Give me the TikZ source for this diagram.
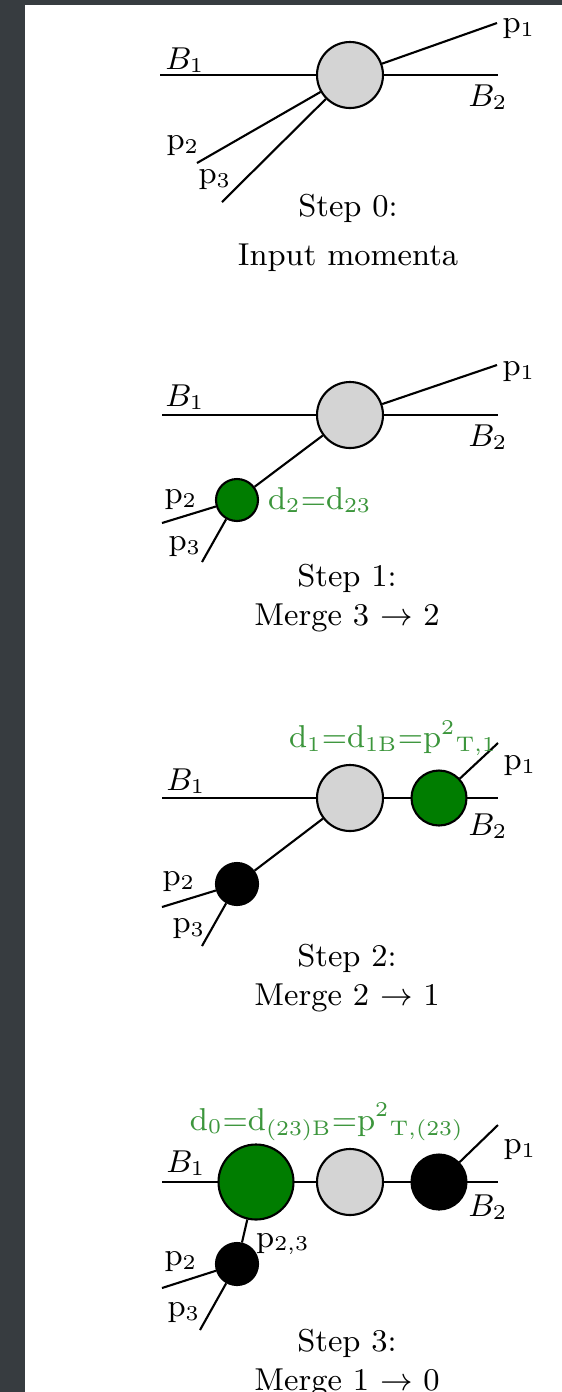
\documentclass[tikz,border=0pt]{standalone}
\usepackage{amsmath}
\usepackage{xcolor}
\usepackage{tikz}

\definecolor{bgdark}{RGB}{55,60,64}
\definecolor{softgray}{RGB}{212,212,212}
\definecolor{mgreen}{RGB}{0,125,0}
\definecolor{lgreen}{RGB}{60,150,60}

\begin{document}
\begin{tikzpicture}[x=0.1mm, y=-0.1mm, line width=0.6pt,
    font=\fontsize{9}{11}\selectfont,
    blob/.style={circle, draw=black, line width=0.6pt, inner sep=0pt},
    hardblob/.style={blob, fill=softgray, minimum size=6.6mm},
    smallblob/.style={blob, minimum size=4.2mm},
    midblob/.style={blob, minimum size=5.5mm},
    bigblob/.style={blob, minimum size=7.5mm},
    dtext/.style={text=lgreen, inner sep=0pt},
    steptext/.style={anchor=north, align=center, inner sep=0pt}]

    % Sfondo
    \fill[white] (0,0) rectangle (562,1392);
    \fill[bgdark] (0,0) rectangle (25,1392);
    \fill[bgdark] (0,0) rectangle (562,5);
    \useasboundingbox (0,0) rectangle (562,1392);

    % Step 0
\begin{scope}[shift={(0,75)}]
    \coordinate (b0l) at (160,0);
    \coordinate (b0r) at (498,0);
    \draw (b0l) -- (b0r);
    \node[hardblob] (h0) at (350,0) {};
    \coordinate (e0p1) at (497,-52);
    \coordinate (e0p2) at (197,88);
    \coordinate (e0p3) at (222,127);
    \draw (h0) -- (e0p1);
    \draw (h0) -- (e0p2);
    \draw (h0) -- (e0p3);
    \node (l0b1) at (185,-15) {$B_1$};
    \node (l0b2) at (488,22) {$B_2$};
    \node (l0p1) at (519,-46) {$\mathrm{p}_1$};
    \node (l0p2) at (183,71) {$\mathrm{p}_2$};
    \node (l0p3) at (215,105) {$\mathrm{p}_3$};
    \node[steptext] (t0) at (348,118) {Step 0:\\[2.9pt] Input momenta};
\end{scope}

    % Step 1
\begin{scope}[shift={(0,415)}]
    \coordinate (b1l) at (162,0);
    \coordinate (b1r) at (498,0);
    \draw (b1l) -- (b1r);
    \node[hardblob] (h1) at (350,0) {};
    \node[smallblob, fill=mgreen] (s1) at (237,85) {};
    \coordinate (e1p1) at (497,-50);
    \coordinate (e1p2) at (162,108);
    \coordinate (e1p3) at (202,147);
    \draw (h1) -- (e1p1);
    \draw (s1) -- (h1);
    \draw (s1) -- (e1p2);
    \draw (s1) -- (e1p3);
    \node (l1b1) at (185,-18) {$B_1$};
    \node (l1b2) at (488,22) {$B_2$};
    \node (l1p1) at (519,-43) {$\mathrm{p}_1$};
    \node (l1p2) at (181,85) {$\mathrm{p}_2$};
    \node (l1p3) at (185,132) {$\mathrm{p}_3$};
    \node[dtext, anchor=west] (d1) at (267,85) {$\mathrm{d_2{=}d_{23}}$};
    \node[steptext] (t1) at (347,148) {Step 1:\\ Merge 3 $\to$ 2};
\end{scope}

    % Step 2
\begin{scope}[shift={(0,798)}]
    \coordinate (b2l) at (162,0);
    \coordinate (b2r) at (498,0);
    \draw (b2l) -- (b2r);
    \node[hardblob] (h2) at (350,0) {};
    \node[midblob, fill=mgreen] (r2) at (439,0) {};
    \node[smallblob, fill=black] (s2) at (237,86) {};
    \coordinate (e2p1) at (498,-55);
    \coordinate (e2p2) at (162,109);
    \coordinate (e2p3) at (202,148);
    \draw (r2) -- (e2p1);
    \draw (s2) -- (h2);
    \draw (s2) -- (e2p2);
    \draw (s2) -- (e2p3);
    \node (l2b1) at (186,-17) {$B_1$};
    \node (l2b2) at (488,28) {$B_2$};
    \node (l2p1) at (520,-32) {$\mathrm{p}_1$};
    \node (l2p2) at (179,84) {$\mathrm{p}_2$};
    \node (l2p3) at (189,131) {$\mathrm{p}_3$};
    \node[dtext] (d2) at (393,-60) {$\mathrm{d_1{=}d_{1B}{=}p^2{}_{T,1}}$};
    \node[steptext] (t2) at (347,145) {Step 2:\\ Merge 2 $\to$ 1};
\end{scope}

    % Step 3
\begin{scope}[shift={(0,1182)}]
    \coordinate (b3l) at (162,0);
    \coordinate (b3r) at (498,0);
    \draw (b3l) -- (b3r);
    \node[bigblob, fill=mgreen] (c3) at (256,0) {};
    \node[hardblob] (h3) at (350,0) {};
    \node[midblob, fill=black] (r3) at (439,0) {};
    \node[smallblob, fill=black] (s3) at (237,82) {};
    \coordinate (e3p1) at (498,-57);
    \coordinate (e3p2) at (162,106);
    \coordinate (e3p3) at (200,148);
    \draw (r3) -- (e3p1);
    \draw (s3) -- (c3);
    \draw (s3) -- (e3p2);
    \draw (s3) -- (e3p3);
    \node (l3b1) at (186,-19) {$B_1$};
    \node (l3b2) at (488,25) {$B_2$};
    \node (l3p1) at (520,-32) {$\mathrm{p}_1$};
    \node (l3p2) at (181,80) {$\mathrm{p}_2$};
    \node (l3p3) at (184,131) {$\mathrm{p}_3$};
    \node (l3p23) at (283,62) {$\mathrm{p}_{2,3}$};
    \node[dtext] (d3) at (327,-60) {$\mathrm{d_0{=}d_{(23)B}{=}p^2{}_{T,(23)}}$};
    \node[steptext] (t3) at (347,146) {Step 3:\\ Merge 1 $\to$ 0};
\end{scope}
\end{tikzpicture}
\end{document}
